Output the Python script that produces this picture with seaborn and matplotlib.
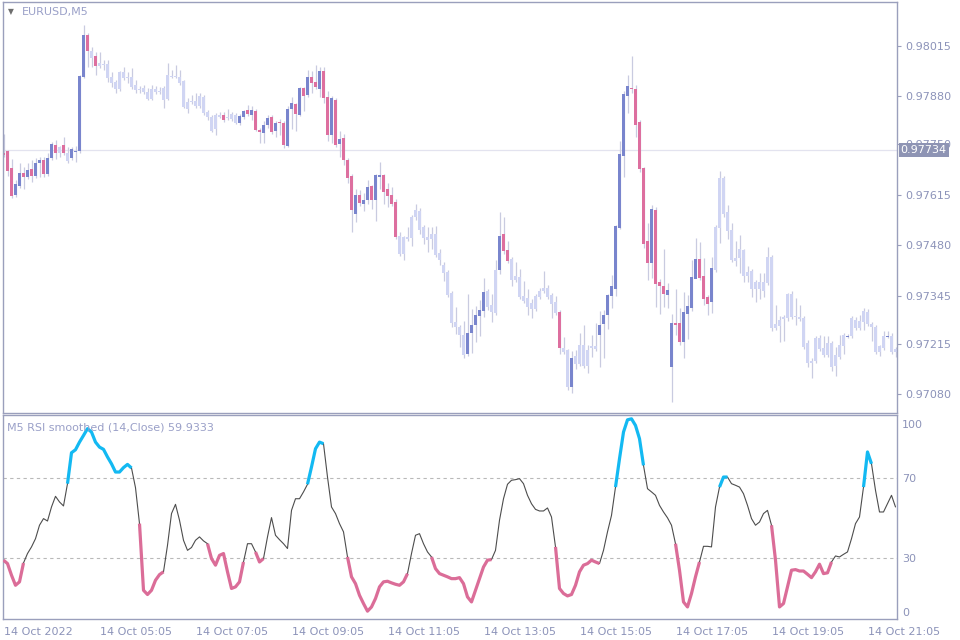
import numpy as np
import seaborn as sns
import matplotlib
matplotlib.use('Agg')
import matplotlib.pyplot as plt
import matplotlib.transforms as mtransforms

# EURUSD M5 candles, prices in points (1e-5)
open_pts = [
    97727, 97732, 97687, 97614, 97639, 97673, 97663, 97684, 97665, 97700,
    97708, 97671, 97714, 97748, 97727, 97748, 97727, 97714, 97730, 97732,
    97931, 98043, 98000, 97987, 97960, 97965, 97965, 97931, 97917, 97898,
    97944, 97931, 97931, 97909, 97898, 97901, 97890, 97872, 97898, 97893,
    97901, 97872, 97933, 97933, 97931, 97920, 97864, 97866, 97866, 97853,
    97877, 97837, 97823, 97791, 97829, 97829, 97823, 97832, 97829, 97807,
    97823, 97842, 97829, 97840, 97789, 97781, 97802, 97823, 97786, 97810,
    97807, 97746, 97845, 97858, 97829, 97901, 97882, 97931, 97917, 97898,
    97947, 97877, 97775, 97869, 97751, 97767, 97708, 97665, 97563, 97614,
    97590, 97601, 97639, 97601, 97663, 97668, 97630, 97614, 97596, 97505,
    97456, 97502, 97499, 97555, 97572, 97529, 97502, 97510, 97510, 97459,
    97427, 97408, 97352, 97274, 97261, 97239, 97188, 97245, 97266, 97290,
    97304, 97357, 97320, 97298, 97413, 97510, 97467, 97443, 97397, 97395,
    97344, 97338, 97325, 97309, 97341, 97357, 97365, 97346, 97328, 97301,
    97204, 97199, 97100, 97183, 97162, 97212, 97156, 97204, 97210, 97239,
    97269, 97293, 97344, 97362, 97526, 97719, 97880, 97901, 97898, 97810,
    97687, 97491, 97432, 97574, 97381, 97371, 97346, 97153, 97271, 97271,
    97220, 97296, 97312, 97389, 97443, 97397, 97341, 97328, 97413, 97526,
    97660, 97569, 97521, 97446, 97446, 97467, 97397, 97411, 97381, 97362,
    97357, 97379, 97448, 97258, 97263, 97282, 97285, 97349, 97287, 97287,
    97285, 97218, 97164, 97170, 97231, 97204, 97186, 97218, 97156, 97180,
    97210, 97234, 97237, 97279, 97258, 97274, 97301, 97269, 97261, 97194,
    97204, 97234, 97237, 97194,
]
high_pts = [
    97778, 97735, 97711, 97655, 97700, 97689, 97700, 97708, 97714, 97716,
    97716, 97727, 97756, 97762, 97746, 97770, 97743, 97743, 97746, 97936,
    98070, 98049, 98011, 97998, 97998, 97976, 97976, 97944, 97923, 97947,
    97957, 97944, 97955, 97923, 97907, 97909, 97901, 97909, 97907, 97904,
    97907, 97968, 97949, 97963, 97949, 97923, 97874, 97882, 97888, 97888,
    97882, 97842, 97829, 97834, 97837, 97837, 97845, 97837, 97834, 97832,
    97842, 97856, 97853, 97845, 97794, 97813, 97829, 97829, 97813, 97818,
    97813, 97853, 97877, 97861, 97904, 97904, 97949, 97947, 97963, 97957,
    97957, 97893, 97880, 97874, 97786, 97778, 97714, 97671, 97630, 97628,
    97620, 97655, 97641, 97671, 97703, 97671, 97647, 97636, 97604, 97515,
    97505, 97529, 97561, 97590, 97580, 97534, 97529, 97529, 97531, 97470,
    97435, 97413, 97357, 97314, 97266, 97277, 97349, 97309, 97317, 97333,
    97392, 97362, 97349, 97440, 97569, 97555, 97491, 97448, 97435, 97416,
    97384, 97362, 97336, 97349, 97365, 97411, 97373, 97352, 97344, 97306,
    97234, 97202, 97196, 97199, 97245, 97266, 97212, 97239, 97271, 97304,
    97306, 97349, 97400, 97534, 97759, 97893, 97936, 97987, 97909, 97815,
    97689, 97539, 97588, 97582, 97389, 97470, 97379, 97296, 97362, 97312,
    97354, 97346, 97440, 97499, 97488, 97446, 97346, 97448, 97534, 97679,
    97665, 97588, 97539, 97491, 97507, 97470, 97424, 97416, 97387, 97405,
    97405, 97475, 97454, 97320, 97290, 97293, 97352, 97357, 97338, 97320,
    97290, 97226, 97178, 97237, 97239, 97237, 97237, 97223, 97207, 97239,
    97245, 97242, 97290, 97287, 97293, 97312, 97309, 97274, 97266, 97212,
    97250, 97250, 97245, 97207,
]
low_pts = [
    97716, 97665, 97606, 97609, 97633, 97630, 97657, 97649, 97660, 97663,
    97663, 97665, 97708, 97711, 97716, 97722, 97700, 97708, 97703, 97727,
    97928, 97957, 97957, 97936, 97955, 97949, 97917, 97904, 97888, 97893,
    97923, 97915, 97898, 97888, 97888, 97885, 97869, 97869, 97885, 97885,
    97848, 97869, 97928, 97928, 97909, 97848, 97834, 97858, 97848, 97848,
    97829, 97815, 97783, 97775, 97821, 97810, 97815, 97813, 97805, 97802,
    97818, 97826, 97815, 97786, 97754, 97754, 97794, 97778, 97770, 97775,
    97740, 97743, 97791, 97786, 97826, 97840, 97877, 97888, 97898, 97877,
    97861, 97759, 97754, 97743, 97716, 97695, 97647, 97515, 97542, 97585,
    97572, 97590, 97577, 97545, 97630, 97590, 97582, 97585, 97496, 97451,
    97440, 97491, 97478, 97547, 97510, 97483, 97462, 97470, 97448, 97427,
    97384, 97341, 97261, 97242, 97207, 97178, 97183, 97191, 97220, 97237,
    97287, 97306, 97274, 97293, 97403, 97456, 97432, 97371, 97381, 97336,
    97325, 97293, 97285, 97304, 97336, 97352, 97336, 97285, 97293, 97188,
    97188, 97092, 97084, 97148, 97156, 97151, 97137, 97180, 97196, 97153,
    97178, 97255, 97312, 97344, 97523, 97663, 97834, 97888, 97770, 97676,
    97473, 97387, 97392, 97314, 97296, 97314, 97312, 97060, 97239, 97212,
    97178, 97229, 97304, 97435, 97387, 97320, 97293, 97298, 97408, 97486,
    97555, 97496, 97435, 97424, 97405, 97381, 97381, 97341, 97328, 97336,
    97341, 97373, 97250, 97253, 97220, 97223, 97277, 97282, 97266, 97277,
    97202, 97153, 97124, 97164, 97196, 97180, 97180, 97143, 97129, 97175,
    97188, 97231, 97231, 97253, 97253, 97253, 97263, 97223, 97188, 97183,
    97199, 97231, 97188, 97180,
]
close_pts = [
    97722, 97679, 97612, 97644, 97673, 97663, 97681, 97665, 97700, 97708,
    97671, 97714, 97751, 97727, 97743, 97727, 97706, 97738, 97732, 97933,
    98043, 98000, 97982, 97960, 97968, 97963, 97928, 97915, 97898, 97944,
    97928, 97928, 97904, 97896, 97896, 97890, 97872, 97898, 97890, 97890,
    97869, 97936, 97931, 97931, 97915, 97850, 97845, 97864, 97853, 97880,
    97834, 97823, 97786, 97829, 97823, 97815, 97821, 97818, 97807, 97826,
    97840, 97832, 97842, 97789, 97783, 97802, 97821, 97783, 97807, 97807,
    97748, 97845, 97861, 97832, 97901, 97880, 97931, 97915, 97904, 97947,
    97874, 97775, 97874, 97748, 97764, 97708, 97660, 97574, 97614, 97593,
    97601, 97636, 97601, 97668, 97668, 97622, 97612, 97590, 97502, 97456,
    97502, 97496, 97555, 97574, 97521, 97499, 97494, 97496, 97454, 97440,
    97405, 97346, 97271, 97261, 97239, 97186, 97245, 97266, 97293, 97306,
    97354, 97314, 97301, 97413, 97505, 97464, 97438, 97387, 97387, 97341,
    97330, 97314, 97309, 97344, 97357, 97365, 97341, 97322, 97298, 97204,
    97194, 97100, 97178, 97162, 97212, 97156, 97199, 97210, 97202, 97266,
    97293, 97346, 97371, 97531, 97724, 97885, 97907, 97898, 97802, 97684,
    97483, 97432, 97577, 97376, 97371, 97349, 97360, 97271, 97266, 97220,
    97301, 97317, 97395, 97443, 97392, 97336, 97322, 97419, 97529, 97660,
    97563, 97518, 97440, 97438, 97470, 97397, 97408, 97362, 97362, 97381,
    97381, 97448, 97258, 97269, 97279, 97287, 97349, 97287, 97290, 97282,
    97207, 97164, 97170, 97231, 97202, 97186, 97218, 97153, 97186, 97212,
    97239, 97237, 97285, 97258, 97277, 97304, 97269, 97261, 97194, 97210,
    97237, 97237, 97194, 97202,
]
# candle colouring: u = blue, d = pink, n = pale
candle_flags = (
    "ddduududuu" "duudndnuuu" "udndnnnnnn" "nnnnnnnnnn" "nnnnnnnnnn"
    "nnnnndnnnu" "ududduudud" "duudududdu" "ddududddud" "uuduuddddn"
    "nnnnnnnnnn" "nnnnnnuuuu" "unnnuddnnn" "nnnnnnnnnd" "nnunnnnnnu"
    "uuuuuuuddd" "dduddduudd" "uuuudddunn" "nnnnnnnnnn" "nnnnnnnnnn"
    "nnnnnnnnnn" "nunnnnnnnn" "nunn"
)

# RSI smoothed (14, Close)
rsi = [
    28.9, 27.2, 21.4, 16.4, 18.1, 27.5, 32.2, 35.5, 39.6, 46.3,
    49.6, 48.4, 55.4, 60.7, 57.9, 55.9, 67.0, 82.4, 83.9, 87.7,
    91.0, 94.4, 92.7, 87.7, 85.2, 84.1, 80.3, 76.9, 72.8, 72.8,
    75.0, 76.6, 74.8, 65.0, 47.1, 13.9, 11.8, 13.9, 18.9, 21.7,
    23.1, 36.3, 52.1, 56.7, 48.8, 38.8, 33.8, 35.2, 38.8, 40.5,
    38.5, 37.1, 29.7, 26.4, 31.3, 32.2, 23.1, 14.8, 15.6, 18.1,
    28.0, 37.1, 37.1, 33.0, 28.0, 29.7, 40.5, 50.1, 41.3, 39.1,
    37.1, 34.7, 53.7, 59.5, 59.5, 62.9, 66.7, 75.3, 84.4, 87.7,
    86.9, 70.3, 55.4, 52.1, 47.1, 43.0, 30.5, 20.6, 17.2, 11.4,
    7.3, 3.5, 5.6, 9.8, 15.6, 18.1, 18.4, 17.6, 16.9, 16.4,
    18.1, 22.2, 32.2, 41.3, 42.1, 37.1, 33.0, 30.5, 24.7, 22.2,
    21.4, 20.6, 19.7, 19.7, 20.2, 17.2, 10.6, 8.1, 13.9, 19.7,
    25.5, 28.9, 29.2, 33.8, 48.8, 59.5, 66.7, 68.7, 69.0, 69.5,
    67.0, 61.2, 57.0, 54.2, 53.4, 53.4, 54.9, 50.4, 35.5, 14.8,
    12.3, 11.1, 11.8, 16.4, 23.1, 26.4, 27.2, 28.9, 28.0, 27.2,
    33.8, 43.0, 51.2, 65.3, 79.4, 92.7, 98.8, 99.3, 96.0, 89.4,
    76.1, 64.5, 62.9, 61.2, 56.2, 52.9, 50.0, 46.3, 37.1, 23.9,
    8.1, 5.6, 12.3, 20.6, 28.0, 35.8, 35.8, 35.5, 55.4, 65.3,
    70.3, 70.3, 67.0, 66.2, 65.3, 62.0, 56.2, 49.6, 46.3, 47.9,
    52.1, 53.7, 46.3, 28.9, 5.6, 7.3, 15.6, 23.9, 24.2, 23.5,
    23.5, 21.9, 20.2, 23.1, 26.9, 22.2, 22.6, 28.0, 31.0, 30.5,
    31.8, 33.0, 39.6, 47.1, 50.4, 65.3, 82.8, 76.9, 63.7, 52.9,
    52.9, 57.0, 61.2, 55.4,
]
# RSI zone per bar: b = overbought colour, p = oversold colour, - = plain
rsi_zone = (
    "pppppp----" "------bbbb" "bbbbbbbbbb" "bbb-pppppp" "p---------"
    "-ppppppppp" "p--ppp----" "------bbbb" "b-----pppp" "pppppppppp"
    "pp-----ppp" "pppppppppp" "ppp-------" "--------pp" "pppppppppp"
    "---bbbbbbb" "b-------pp" "ppppp----b" "bb--------" "--pppppppp"
    "pppppppp--" "-----bbb--" "----"
)

time_labels = ['14 Oct 2022', '14 Oct 05:05', '14 Oct 07:05', '14 Oct 09:05',
               '14 Oct 11:05', '14 Oct 13:05', '14 Oct 15:05', '14 Oct 17:05',
               '14 Oct 19:05', '14 Oct 21:05']
time_label_bars = [0, 24, 48, 72, 96, 120, 144, 168, 192, 216]
price_ticks = [0.97080, 0.97215, 0.97345, 0.97480, 0.97615, 0.97750, 0.97880, 0.98015]
last_price = 0.97734

sns.set_style('white')
plt.rcParams['font.family'] = ['DejaVu Sans']

frame_col = '#9a9fbc'
text_col = '#8c93b9'
body_cols = {'u': '#7985cd', 'd': '#dd6f9f', 'n': '#d0d5f3'}
zone_cols = {'b': '#13b9f2', 'p': '#db6d98'}

bars = np.arange(len(close_pts))
o = np.array(open_pts) / 1e5
h = np.array(high_pts) / 1e5
l = np.array(low_pts) / 1e5
c = np.array(close_pts) / 1e5
rsi = np.array(rsi)

fig = plt.figure(figsize=(9.6, 6.4), dpi=100)
ax1 = fig.add_axes([2.5 / 960, 1 - 413 / 640, 894.8 / 960, 410.7 / 640])
ax2 = fig.add_axes([2.5 / 960, 1 - 619.3 / 640, 894.8 / 960, 204.3 / 640], sharex=ax1)

# price panel
ax1.axhline(last_price, color='#e3e3ef', lw=0.9, zorder=0)
ax1.vlines(bars, l, h, color='#c9cbe0', lw=0.9, zorder=1)
body_h = np.maximum(np.abs(c - o), 0.00002)
ax1.bar(bars, body_h, bottom=np.minimum(o, c), width=0.75,
        color=[body_cols[f] for f in candle_flags], lw=0, zorder=2)

ax1.set_xlim(-0.25, 223.45)
ax1.set_ylim(0.970302, 0.981308)
ax1.yaxis.tick_right()
ax1.set_yticks(price_ticks)
ax1.set_yticklabels(['%.5f' % p for p in price_ticks])
ax1.tick_params(axis='y', length=3, width=0.8, color=frame_col, labelcolor=text_col,
                labelsize=8, pad=3, direction='out')
ax1.tick_params(axis='x', bottom=False, labelbottom=False)

tr = mtransforms.blended_transform_factory(ax1.transAxes, ax1.transData)
ax1.text(1.0036, last_price, '0.97734', transform=tr, ha='left', va='center',
         color='white', fontsize=8, zorder=5,
         bbox=dict(boxstyle='square,pad=0.18', fc='#8e94b4', ec='none'))

# RSI panel
for lvl in (70, 30):
    ax2.axhline(lvl, color='#b9b9b9', lw=0.8, ls=(0, (3, 3)), zorder=0)
sns.lineplot(x=bars, y=rsi, ax=ax2, color='#4d4d4d', lw=0.8, estimator=None, zorder=2)

start = None
for i in range(len(rsi_zone) + 1):
    z = rsi_zone[i] if i < len(rsi_zone) else '-'
    if start is not None and z != rsi_zone[start]:
        seg = slice(start, i)
        sns.lineplot(x=bars[seg], y=rsi[seg], ax=ax2, color=zone_cols[rsi_zone[start]],
                     lw=2.3, estimator=None, zorder=3, solid_capstyle='butt')
        start = None
    if start is None and z != '-':
        start = i

ax2.set_ylim(-0.55, 101.2)
ax2.yaxis.tick_right()
ax2.set_yticks([3.1, 30, 70, 96.5])
ax2.set_yticklabels(['0', '30', '70', '100'])
ax2.tick_params(axis='y', length=0, labelcolor=text_col, labelsize=8, pad=3.5)
ax2.set_xticks(time_label_bars)
ax2.set_xticklabels(time_labels, ha='left')
ax2.tick_params(axis='x', length=4, width=0.8, color=frame_col, labelcolor=text_col,
                labelsize=8, pad=1.5, direction='out')
ax2.set_xlabel('')
ax2.set_ylabel('')

for ax in (ax1, ax2):
    for sp in ax.spines.values():
        sp.set_color(frame_col)
        sp.set_linewidth(1.0)
        sp.set_visible(True)

fig.text(8 / 960, 1 - 12 / 640, '\u25bc', fontsize=5.5, color='#6e6e6e', va='center')
fig.text(22 / 960, 1 - 12 / 640, 'EURUSD,M5', fontsize=8, color='#9aa0c8', va='center')
fig.text(7 / 960, 1 - 427 / 640, 'M5 RSI smoothed (14,Close) 59.9333', fontsize=8,
         color='#9aa0c8', va='center')

fig.savefig('out.png', dpi=100)
